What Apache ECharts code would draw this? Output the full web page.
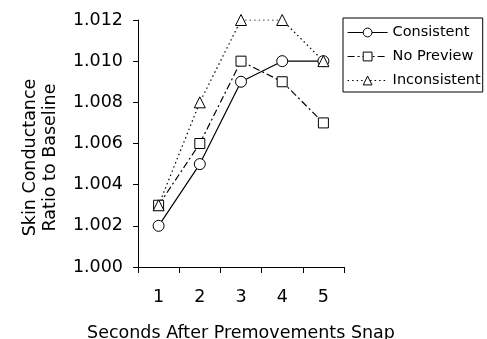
<!DOCTYPE html>
<html>
<head>
<meta charset="utf-8">
<script src="https://cdn.jsdelivr.net/npm/echarts@6/dist/echarts.min.js"></script>
<style>
  html, body { margin: 0; padding: 0; background: #fff; }
  #main { width: 487px; height: 339px; }
</style>
</head>
<body>
<div id="main"></div>
<script>
// 横轴类别（秒）
const seconds = ['1', '2', '3', '4', '5']
// 三组数据
const consistent = [1.002, 1.005, 1.009, 1.010, 1.010]
const noPreview = [1.003, 1.006, 1.010, 1.009, 1.007]
const inconsistent = [1.003, 1.008, 1.012, 1.012, 1.010]

const font = 'DejaVu Sans, Arial, Helvetica, sans-serif'
const myChart = echarts.init(document.getElementById('main'))

const option = {
  animation: false,
  textStyle: { fontFamily: font, color: '#000' },
  grid: {
    left: 138,
    right: 143,
    top: 20,
    bottom: 72,
    containLabel: false,
    outerBoundsMode: 'none'
  },
  legend: {
    orient: 'vertical',
    left: 343,
    top: 18,
    itemWidth: 40,
    itemHeight: 11,
    itemGap: 9,
    padding: [7, 2, 4, 4],
    borderColor: '#000',
    borderWidth: 1,
    borderRadius: 0,
    lineStyle: { width: 1.2 },
    itemStyle: { borderWidth: 1 },
    textStyle: { fontFamily: font, fontSize: 14.5, color: '#000' },
    data: ['Consistent', 'No Preview', 'Inconsistent']
  },
  xAxis: {
    type: 'category',
    data: seconds,
    name: 'Seconds After Premovements Snap',
    nameLocation: 'middle',
    nameGap: 57,
    nameTextStyle: { fontSize: 17.5, color: '#000' },
    axisLine: { lineStyle: { color: '#000', width: 1 } },
    axisTick: { show: true, length: 6, lineStyle: { color: '#000' } },
    axisLabel: { fontSize: 17.5, color: '#000', margin: 21 }
  },
  yAxis: {
    type: 'value',
    min: 1.0,
    max: 1.012,
    interval: 0.002,
    name: 'Skin Conductance\nRatio to Baseline',
    nameLocation: 'middle',
    nameGap: 78,
    nameTextStyle: { fontSize: 17.5, color: '#000', lineHeight: 20, padding: [0, 28, 0, 0] },
    splitLine: { show: false },
    axisLine: { show: true, lineStyle: { color: '#000', width: 1 } },
    axisTick: { show: true, length: 5, lineStyle: { color: '#000' } },
    axisLabel: {
      fontSize: 17.5,
      color: '#000',
      margin: 15,
      formatter: v => v.toFixed(3)
    }
  },
  series: [
    {
      name: 'Consistent',
      type: 'line',
      data: consistent,
      symbol: 'circle',
      symbolSize: 11,
      itemStyle: { color: '#fff', borderColor: '#000', borderWidth: 1 },
      lineStyle: { color: '#000', width: 1.2, type: 'solid' }
    },
    {
      name: 'No Preview',
      type: 'line',
      data: noPreview,
      symbol: 'rect',
      symbolSize: 10,
      itemStyle: { color: '#fff', borderColor: '#000', borderWidth: 1 },
      lineStyle: { color: '#000', width: 1.2, type: [7, 3, 2, 3] }
    },
    {
      name: 'Inconsistent',
      type: 'line',
      data: inconsistent,
      symbol: 'triangle',
      symbolSize: 11,
      itemStyle: { color: '#fff', borderColor: '#000', borderWidth: 1 },
      lineStyle: { color: '#000', width: 1.2, type: [1.5, 3] }
    }
  ]
}
myChart.setOption(option)
</script>
</body>
</html>
